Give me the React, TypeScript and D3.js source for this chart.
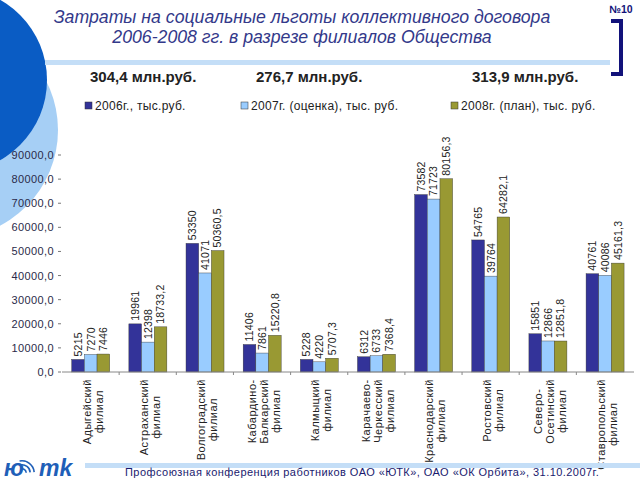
import React, { useEffect, useRef } from "react";
import * as d3 from "d3";

const categories: string[] = [
  "Адыгейский\nфилиал",
  "Астраханский\nфилиал",
  "Волгоградский\nфилиал",
  "Кабардино-\nБалкарский\nфилиал",
  "Калмыцкий\nфилиал",
  "Карачаево-\nЧеркесский\nфилиал",
  "Краснодарский\nфилиал",
  "Ростовский\nфилиал",
  "Северо-\nОсетинский\nфилиал",
  "Ставропольский\nфилиал",
];
const seriesNames = ["2006г., тыс.руб.", "2007г. (оценка), тыс. руб.", "2008г. (план), тыс. руб."];
const values2006 = [5215, 19961, 53350, 11406, 5228, 6312, 73582, 54765, 15851, 40761];
const values2007 = [7270, 12398, 41071, 7861, 4220, 6733, 71723, 39764, 12866, 40086];
const values2008 = [7446, 18733.2, 50360.5, 15220.8, 5707.3, 7368.4, 80156.3, 64282.1, 12851.8, 45161.3];
const yTicks = [0, 10000, 20000, 30000, 40000, 50000, 60000, 70000, 80000, 90000];
const totals = ["304,4 млн.руб.", "276,7 млн.руб.", "313,9 млн.руб."];
const titleLines = [
  "Затраты на социальные льготы коллективного договора",
  "2006-2008 гг. в разрезе филиалов Общества",
];
const footerText = "Профсоюзная конференция работников ОАО «ЮТК», ОАО «ОК Орбита», 31.10.2007г.";

const colors = ["#333399", "#99ccff", "#999933"];

export default function App() {
  const ref = useRef<SVGSVGElement>(null);

  useEffect(() => {
    const svg = d3.select(ref.current);
    svg.selectAll("*").remove();
    const font = "Arial, 'Liberation Sans', sans-serif";

    // decorative circles
    svg.append("circle").attr("cx", -50).attr("cy", 130).attr("r", 108).attr("fill", "#a6cff5");
    svg.append("circle").attr("cx", -45).attr("cy", 80).attr("r", 92).attr("fill", "#0a5cc4");

    // title
    titleLines.forEach((t, i) => {
      svg.append("text").attr("x", 302).attr("y", 23 + i * 20).attr("text-anchor", "middle")
        .attr("font-family", font).attr("font-style", "italic").attr("font-size", 17.7)
        .attr("fill", "#33398a").text(t);
    });
    svg.append("rect").attr("x", 45).attr("y", 60).attr("width", 565).attr("height", 5).attr("fill", "#c4def7");

    // bracket
    svg.append("path").attr("d", "M611,21 H621 V74 H611").attr("fill", "none")
      .attr("stroke", "#12127a").attr("stroke-width", 4);
    svg.append("text").attr("x", 621).attr("y", 13).attr("text-anchor", "middle")
      .attr("font-family", font).attr("font-weight", "bold").attr("font-size", 10.5)
      .attr("fill", "#12127a").text("№10");

    // totals
    const totalX = [90, 256, 472];
    totals.forEach((t, i) => {
      svg.append("text").attr("x", totalX[i]).attr("y", 82).attr("font-family", font)
        .attr("font-weight", "bold").attr("font-size", 15).attr("fill", "#222").text(t);
    });

    // legend
    const legendX = [85, 241, 451];
    seriesNames.forEach((s, i) => {
      svg.append("rect").attr("x", legendX[i]).attr("y", 102).attr("width", 7).attr("height", 7)
        .attr("fill", colors[i]).attr("stroke", "#333").attr("stroke-width", 0.5);
      svg.append("text").attr("x", legendX[i] + 10).attr("y", 110).attr("font-family", font)
        .attr("font-size", 12).attr("letter-spacing", 0.3).attr("fill", "#222").text(s);
    });

    // scales
    const x0 = d3.scaleBand<string>().domain(categories).range([62, 633.5]).padding(0);
    const bw = x0.bandwidth();
    const x1 = d3.scaleBand<number>().domain([0, 1, 2]).range([bw * 0.17, bw * 0.835]).padding(0);
    const y = d3.scaleLinear().domain([0, 90000]).range([372, 155]);

    // y axis labels
    yTicks.forEach((t) => {
      svg.append("text").attr("x", 54).attr("y", y(t) + 4).attr("text-anchor", "end")
        .attr("font-family", font).attr("font-size", 11).attr("letter-spacing", 0.4)
        .attr("fill", "#2a2a4a").text(t.toFixed(1).replace(".", ","));
      svg.append("line").attr("x1", 58).attr("x2", 61).attr("y1", y(t)).attr("y2", y(t))
        .attr("stroke", "#777").attr("stroke-width", 1);
    });

    const series = [values2006, values2007, values2008];
    const fmt = (v: number, s: number) =>
      s < 2 || Number.isInteger(v) ? String(v) : v.toFixed(1).replace(".", ",");

    categories.forEach((c, ci) => {
      const gx = x0(c)!;
      series.forEach((vals, si) => {
        const v = vals[ci];
        const bx = gx + x1(si)!;
        const w = x1.bandwidth();
        svg.append("rect").attr("x", bx).attr("y", y(v)).attr("width", w).attr("height", y(0) - y(v))
          .attr("fill", colors[si]).attr("stroke", "#333").attr("stroke-width", 0.4);
        svg.append("text").attr("transform", `translate(${bx + w / 2 + 3.8},${y(v) - 3}) rotate(-90)`)
          .attr("font-family", font).attr("font-size", 10.5).attr("letter-spacing", 0.2)
          .attr("fill", "#222").text(fmt(v, si));
      });
    });

    // x axis
    svg.append("line").attr("x1", 62).attr("x2", 634).attr("y1", 372).attr("y2", 372)
      .attr("stroke", "#888").attr("stroke-width", 1);
    categories.forEach((c, ci) => {
      if (ci === 0) return;
      const bx = x0(c)!;
      svg.append("line").attr("x1", bx).attr("x2", bx).attr("y1", 372).attr("y2", 375)
        .attr("stroke", "#888").attr("stroke-width", 1);
    });

    // category labels
    categories.forEach((c) => {
      const lines = c.split("\n");
      const cx = x0(c)! + bw / 2 + 2;
      const texts = lines.map((l) =>
        svg.append("text").attr("font-family", font).attr("font-size", 11)
          .attr("letter-spacing", 0.5).attr("fill", "#222").attr("text-anchor", "middle").text(l)
      );
      const L = Math.max(...texts.map((t) => (t.node() as SVGTextElement).getComputedTextLength()));
      const yc = 379 + L / 2;
      texts.forEach((t, i) => {
        const lx = cx + (i - (lines.length - 1) / 2) * 12 + 4;
        t.attr("transform", `translate(${lx},${yc}) rotate(-90)`);
      });
    });

    // footer
    svg.append("rect").attr("x", 85).attr("y", 463).attr("width", 555).attr("height", 5).attr("fill", "#c4def7");
    svg.append("text").attr("x", 125).attr("y", 476).attr("font-family", font).attr("font-size", 11)
      .attr("letter-spacing", 0.45).attr("fill", "#1a1a6e").text(footerText);

    // logo
    const logo = svg.append("g");
    logo.append("text").attr("x", 4).attr("y", 476).attr("font-family", font).attr("font-weight", "900")
      .attr("font-style", "italic").attr("font-size", 23).attr("fill", "#1f5fb8").text("ю");
    logo.append("text").attr("x", 39).attr("y", 476).attr("font-family", font).attr("font-weight", "900")
      .attr("font-style", "italic").attr("font-size", 23).attr("fill", "#1f5fb8").text("mk");
    [5, 9, 13].forEach((r) => {
      logo.append("path")
        .attr("d", d3.arc()({ innerRadius: r - 1.6, outerRadius: r, startAngle: -0.2, endAngle: 1.5 }) as string)
        .attr("transform", "translate(22,473)").attr("fill", "#1f5fb8");
    });
  }, []);

  return (
    <svg ref={ref} width={640} height={480}
      style={{ position: "absolute", left: 0, top: 0, background: "#fff" }} />
  );
}
